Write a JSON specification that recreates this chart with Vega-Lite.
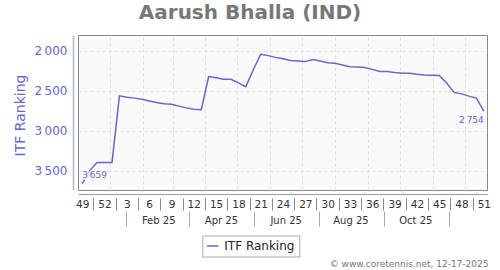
{
  "$schema": "https://vega.github.io/schema/vega-lite/v6.json",
  "width": 409,
  "height": 155,
  "autosize": {"type": "none"},
  "padding": {"left": 78, "top": 35, "right": 13, "bottom": 80},
  "background": "#ffffff",
  "title": {"text": "Aarush Bhalla (IND)", "fontSize": 20, "fontWeight": "bold", "color": "#777777", "anchor": "middle", "frame": "group", "dx": -32.5, "offset": -4, "baseline": "alphabetic", "font": "DejaVu Sans"},
  "data": {"values": [
    {"date": "2024-12-06", "rank": 3659},
    {"date": "2024-12-13", "rank": 3497},
    {"date": "2024-12-20", "rank": 3396},
    {"date": "2024-12-27", "rank": 3396},
    {"date": "2025-01-03", "rank": 3396},
    {"date": "2025-01-10", "rank": 2562},
    {"date": "2025-01-17", "rank": 2578},
    {"date": "2025-01-24", "rank": 2590},
    {"date": "2025-01-31", "rank": 2604},
    {"date": "2025-02-07", "rank": 2625},
    {"date": "2025-02-14", "rank": 2645},
    {"date": "2025-02-21", "rank": 2660},
    {"date": "2025-02-28", "rank": 2666},
    {"date": "2025-03-07", "rank": 2690},
    {"date": "2025-03-14", "rank": 2712},
    {"date": "2025-03-21", "rank": 2728},
    {"date": "2025-03-28", "rank": 2735},
    {"date": "2025-04-04", "rank": 2321},
    {"date": "2025-04-11", "rank": 2335},
    {"date": "2025-04-18", "rank": 2354},
    {"date": "2025-04-25", "rank": 2354},
    {"date": "2025-05-02", "rank": 2400},
    {"date": "2025-05-09", "rank": 2446},
    {"date": "2025-05-16", "rank": 2235},
    {"date": "2025-05-23", "rank": 2041},
    {"date": "2025-05-30", "rank": 2058},
    {"date": "2025-06-06", "rank": 2080},
    {"date": "2025-06-13", "rank": 2098},
    {"date": "2025-06-20", "rank": 2118},
    {"date": "2025-06-27", "rank": 2125},
    {"date": "2025-07-04", "rank": 2133},
    {"date": "2025-07-11", "rank": 2108},
    {"date": "2025-07-18", "rank": 2125},
    {"date": "2025-07-25", "rank": 2146},
    {"date": "2025-08-01", "rank": 2154},
    {"date": "2025-08-08", "rank": 2175},
    {"date": "2025-08-15", "rank": 2196},
    {"date": "2025-08-22", "rank": 2202},
    {"date": "2025-08-29", "rank": 2206},
    {"date": "2025-09-05", "rank": 2230},
    {"date": "2025-09-12", "rank": 2256},
    {"date": "2025-09-19", "rank": 2258},
    {"date": "2025-09-26", "rank": 2270},
    {"date": "2025-10-03", "rank": 2279},
    {"date": "2025-10-10", "rank": 2279},
    {"date": "2025-10-17", "rank": 2290},
    {"date": "2025-10-24", "rank": 2300},
    {"date": "2025-10-31", "rank": 2304},
    {"date": "2025-11-07", "rank": 2308},
    {"date": "2025-11-14", "rank": 2400},
    {"date": "2025-11-21", "rank": 2518},
    {"date": "2025-11-28", "rank": 2537},
    {"date": "2025-12-05", "rank": 2565},
    {"date": "2025-12-12", "rank": 2590},
    {"date": "2025-12-19", "rank": 2754}
  ]},
  "resolve": {"axis": {"x": "independent"}},
  "layer": [
    {
      "mark": {"type": "point", "opacity": 0},
      "encoding": {
        "x": {"field": "date", "type": "temporal",
          "axis": {"orient": "bottom", "labels": false, "domain": false, "ticks": false, "grid": true, "gridColor": "#dddddd", "gridDash": [3, 3], "title": null,
            "values": [
              {"year": 2025, "month": 1, "date": 1, "utc": true},
              {"year": 2025, "month": 2, "date": 1, "utc": true},
              {"year": 2025, "month": 3, "date": 1, "utc": true},
              {"year": 2025, "month": 4, "date": 1, "utc": true},
              {"year": 2025, "month": 5, "date": 1, "utc": true},
              {"year": 2025, "month": 6, "date": 1, "utc": true},
              {"year": 2025, "month": 7, "date": 1, "utc": true},
              {"year": 2025, "month": 8, "date": 1, "utc": true},
              {"year": 2025, "month": 9, "date": 1, "utc": true},
              {"year": 2025, "month": 10, "date": 1, "utc": true},
              {"year": 2025, "month": 11, "date": 1, "utc": true},
              {"year": 2025, "month": 12, "date": 1, "utc": true}
            ]}}
      }
    },
    {
      "mark": {"type": "point", "opacity": 0},
      "encoding": {
        "x": {"field": "date", "type": "temporal",
          "axis": {"orient": "bottom", "offset": 8, "labels": false, "domain": false, "grid": false, "ticks": true, "tickSize": 12, "tickColor": "#888888", "tickWidth": 1, "title": null,
            "values": [
              {"year": 2024, "month": 12, "date": 16, "hours": 12, "utc": true},
              {"year": 2025, "month": 1, "date": 6, "hours": 12, "utc": true},
              {"year": 2025, "month": 1, "date": 27, "hours": 12, "utc": true},
              {"year": 2025, "month": 2, "date": 17, "hours": 12, "utc": true},
              {"year": 2025, "month": 3, "date": 10, "hours": 12, "utc": true},
              {"year": 2025, "month": 3, "date": 31, "hours": 12, "utc": true},
              {"year": 2025, "month": 4, "date": 21, "hours": 12, "utc": true},
              {"year": 2025, "month": 5, "date": 12, "hours": 12, "utc": true},
              {"year": 2025, "month": 6, "date": 2, "hours": 12, "utc": true},
              {"year": 2025, "month": 6, "date": 23, "hours": 12, "utc": true},
              {"year": 2025, "month": 7, "date": 14, "hours": 12, "utc": true},
              {"year": 2025, "month": 8, "date": 4, "hours": 12, "utc": true},
              {"year": 2025, "month": 8, "date": 25, "hours": 12, "utc": true},
              {"year": 2025, "month": 9, "date": 15, "hours": 12, "utc": true},
              {"year": 2025, "month": 10, "date": 6, "hours": 12, "utc": true},
              {"year": 2025, "month": 10, "date": 27, "hours": 12, "utc": true},
              {"year": 2025, "month": 11, "date": 17, "hours": 12, "utc": true},
              {"year": 2025, "month": 12, "date": 8, "hours": 12, "utc": true}
            ]}}
      }
    },
    {
      "mark": {"type": "point", "opacity": 0},
      "encoding": {
        "x": {"field": "date", "type": "temporal",
          "axis": {"orient": "bottom", "offset": 0, "domain": false, "grid": false, "ticks": false, "tickSize": 0, "labelPadding": 25, "labelFontSize": 10, "labelColor": "#333333", "labelFlush": false, "labelOverlap": false, "labelFont": "DejaVu Sans", "title": null,
            "labelExpr": "utcFormat(datum.value, '%b %y')",
            "values": [
              {"year": 2025, "month": 2, "date": 15, "hours": 12, "utc": true},
              {"year": 2025, "month": 4, "date": 15, "hours": 12, "utc": true},
              {"year": 2025, "month": 6, "date": 15, "hours": 12, "utc": true},
              {"year": 2025, "month": 8, "date": 15, "hours": 12, "utc": true},
              {"year": 2025, "month": 10, "date": 15, "hours": 12, "utc": true}
            ]}}
      }
    },
    {
      "mark": {"type": "point", "opacity": 0},
      "encoding": {
        "x": {"field": "date", "type": "temporal",
          "axis": {"orient": "bottom", "offset": 21, "labels": false, "domain": false, "grid": false, "ticks": true, "tickSize": 15, "tickColor": "#aaaaaa", "tickWidth": 1,
            "title": "© www.coretennis.net, 12-17-2025", "titleFontSize": 9, "titleFontWeight": "normal", "titleColor": "#777777", "titleFont": "DejaVu Sans", "titleAlign": "right", "titleBaseline": "middle", "titleX": 410, "titleY": 52, "titleAngle": 0,
            "values": [
              {"year": 2025, "month": 1, "date": 16, "hours": 12, "utc": true},
              {"year": 2025, "month": 3, "date": 16, "hours": 12, "utc": true},
              {"year": 2025, "month": 5, "date": 16, "hours": 12, "utc": true},
              {"year": 2025, "month": 7, "date": 16, "hours": 12, "utc": true},
              {"year": 2025, "month": 9, "date": 16, "hours": 12, "utc": true},
              {"year": 2025, "month": 11, "date": 16, "hours": 12, "utc": true}
            ]}}
      }
    },
    {
      "mark": {"type": "line", "strokeWidth": 1.5, "interpolate": "linear"},
      "encoding": {
        "x": {"field": "date", "type": "temporal",
          "scale": {"type": "utc", "domain": [{"year": 2024, "month": 12, "date": 2, "utc": true}, {"year": 2025, "month": 12, "date": 22, "utc": true}]},
          "axis": {"orient": "bottom", "offset": 4, "ticks": false, "tickSize": 0, "grid": false, "domainColor": "#999999", "domainWidth": 1, "labelColor": "#333333", "labelFontSize": 10.5, "labelFont": "DejaVu Sans", "labelPadding": 5, "labelFlush": false, "labelOverlap": false, "title": null,
            "labelExpr": "toString(+utcFormat(datum.value, '%V'))",
            "values": [
              {"year": 2024, "month": 12, "date": 6, "utc": true},
              {"year": 2024, "month": 12, "date": 27, "utc": true},
              {"year": 2025, "month": 1, "date": 17, "utc": true},
              {"year": 2025, "month": 2, "date": 7, "utc": true},
              {"year": 2025, "month": 2, "date": 28, "utc": true},
              {"year": 2025, "month": 3, "date": 21, "utc": true},
              {"year": 2025, "month": 4, "date": 11, "utc": true},
              {"year": 2025, "month": 5, "date": 2, "utc": true},
              {"year": 2025, "month": 5, "date": 23, "utc": true},
              {"year": 2025, "month": 6, "date": 13, "utc": true},
              {"year": 2025, "month": 7, "date": 4, "utc": true},
              {"year": 2025, "month": 7, "date": 25, "utc": true},
              {"year": 2025, "month": 8, "date": 15, "utc": true},
              {"year": 2025, "month": 9, "date": 5, "utc": true},
              {"year": 2025, "month": 9, "date": 26, "utc": true},
              {"year": 2025, "month": 10, "date": 17, "utc": true},
              {"year": 2025, "month": 11, "date": 7, "utc": true},
              {"year": 2025, "month": 11, "date": 28, "utc": true},
              {"year": 2025, "month": 12, "date": 19, "utc": true}
            ]}},
        "y": {"field": "rank", "type": "quantitative",
          "scale": {"reverse": true, "domain": [1800, 3740], "nice": false, "zero": false},
          "axis": {"values": [2000, 2500, 3000, 3500], "labelExpr": "format(datum.value, ',')", "offset": 5, "ticks": false, "tickSize": 0, "labelPadding": 6, "labelFontSize": 12, "labelFont": "DejaVu Sans", "labelColor": "#6666cc", "domainColor": "#b3b3e6", "domainWidth": 1.5, "grid": true, "gridColor": "#dddddd", "gridDash": [3, 3],
            "title": "ITF Ranking", "titleFontSize": 14, "titleFont": "DejaVu Sans", "titleFontWeight": "normal", "titleColor": "#6666cc", "titleX": -53, "titleY": 80, "titleAngle": -90, "titleAlign": "center", "titleBaseline": "middle"}},
        "color": {"datum": "ITF Ranking", "type": "nominal", "scale": {"range": ["#6666cc"]},
          "legend": {"orient": "none", "legendX": 124.3, "legendY": 200.5, "title": null, "symbolType": "stroke", "symbolStrokeWidth": 1.5, "symbolSize": 130, "labelFontSize": 12, "labelFont": "DejaVu Sans", "labelColor": "#222222", "strokeColor": "#aaaaaa", "fillColor": "#ffffff", "padding": 4, "labelOffset": 5}}
      }
    },
    {
      "transform": [{"filter": {"field": "rank", "equal": 3659}}],
      "mark": {"type": "text", "align": "left", "baseline": "alphabetic", "dy": -5.5, "fontSize": 9, "font": "DejaVu Sans", "stroke": "#fafafa", "strokeWidth": 3, "fill": "#fafafa"},
      "encoding": {
        "x": {"field": "date", "type": "temporal", "axis": null},
        "y": {"field": "rank", "type": "quantitative"},
        "text": {"field": "rank", "type": "quantitative", "format": ","}
      }
    },
    {
      "transform": [{"filter": {"field": "rank", "equal": 3659}}],
      "mark": {"type": "text", "align": "left", "baseline": "alphabetic", "dy": -5.5, "fontSize": 9, "font": "DejaVu Sans", "fill": "#6666cc"},
      "encoding": {
        "x": {"field": "date", "type": "temporal", "axis": null},
        "y": {"field": "rank", "type": "quantitative"},
        "text": {"field": "rank", "type": "quantitative", "format": ","}
      }
    },
    {
      "transform": [{"filter": {"field": "rank", "equal": 2754}}],
      "mark": {"type": "text", "align": "right", "baseline": "alphabetic", "dy": 12, "fontSize": 9, "font": "DejaVu Sans", "fill": "#6666cc"},
      "encoding": {
        "x": {"field": "date", "type": "temporal", "axis": null},
        "y": {"field": "rank", "type": "quantitative"},
        "text": {"field": "rank", "type": "quantitative", "format": ","}
      }
    }
  ],
  "config": {
    "locale": {"number": {"decimal": ".", "thousands": "\u2009", "grouping": [3], "currency": ["", ""]}},
    "font": "DejaVu Sans",
    "view": {"fill": "#fafafa", "stroke": "#888888", "strokeWidth": 1}
  }
}
